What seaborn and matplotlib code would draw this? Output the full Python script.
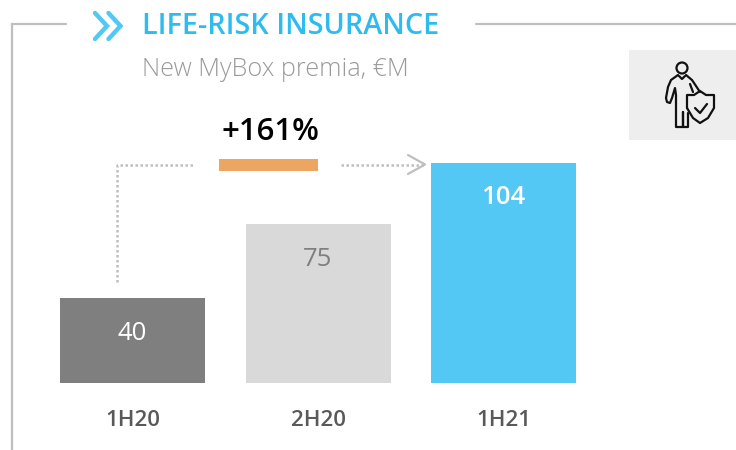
import numpy as np
import pandas as pd
import matplotlib
matplotlib.use("Agg")
import matplotlib.pyplot as plt
from matplotlib.patches import Rectangle, Circle
import seaborn as sns

periods = ["1H20", "2H20", "1H21"]
premia = [40, 75, 104]
bar_colors = ["#7f7f7f", "#d9d9d9", "#53c8f5"]
value_colors = ["white", "#7f7f7f", "white"]
title = "LIFE-RISK INSURANCE"
subtitle = "New MyBox premia, €M"
growth = "+161%"

W, H = 736, 450
sns.set_theme(style="white")
plt.rcParams["font.family"] = ["Open Sans", "DejaVu Sans"]

fig = plt.figure(figsize=(W / 100, H / 100), dpi=100, facecolor="white")

ax = fig.add_axes([0, 0, 1, 1])
df = pd.DataFrame({"period": periods, "premia": premia})
sns.barplot(data=df, x="period", y="premia", hue="period", palette=bar_colors,
            width=145 / 185.5, legend=False, ax=ax, saturation=1, linewidth=0)
ax.set_xlim(-132.5 / 185.5, (W - 132.5) / 185.5)
ppu = 2.115
ax.set_ylim(-(H - 383) / ppu, 383 / ppu)
ax.axis("off")
value_offsets = [32, 32, 31]
for i, (p, v) in enumerate(zip(periods, premia)):
    ax.text(i, v - value_offsets[i] / ppu, str(v), ha="center", va="center_baseline", fontsize=18.5,
            color=value_colors[i], fontweight="semibold" if i == 2 else "normal")
    ax.text(i, -35 / ppu, p, ha="center", va="center_baseline", fontsize=16,
            color="#595959", fontweight="semibold")

ov = fig.add_axes([0, 0, 1, 1], facecolor="none")
ov.set_xlim(0, W)
ov.set_ylim(H, 0)
ov.axis("off")

gray = "#bfbfbf"
ov.plot([66, 12, 12], [23.5, 23.5, 450], color=gray, lw=1.6, solid_joinstyle="miter")
ov.plot([476, 736], [23.5, 23.5], color=gray, lw=1.6)

chev = "#53c8f5"
ov.plot([95, 107, 95], [13, 26, 39], color=chev, lw=3.2, solid_joinstyle="miter")
ov.plot([108.5, 120.5, 108.5], [13, 26, 39], color=chev, lw=3.2, solid_joinstyle="miter")

ov.text(142.5, 23, title, fontsize=20.7, color="#2dbbf0", fontweight="semibold",
        va="center_baseline", ha="left")
ov.text(142.5, 67, subtitle, fontsize=18.2, color="#9a9a9a", fontweight="light",
        va="center_baseline", ha="left")
ov.text(270.5, 129, growth, fontsize=22.4, color="black", fontweight="semibold",
        va="center_baseline", ha="center")

ov.add_patch(Rectangle((219, 159), 98.5, 12, color="#eda661", lw=0))
ov.plot([117, 117, 194], [282, 164.5, 164.5], color=gray, lw=1.8, ls=(0, (1, 1)))
ov.plot([341, 424], [164.5, 164.5], color=gray, lw=1.8, ls=(0, (1, 1)))
ov.plot([408, 425, 408], [155, 164.5, 174], color=gray, lw=1.6)

ov.add_patch(Rectangle((629, 50), 107, 90, color="#eeeeee", lw=0))
k = "#111111"
lw = 1.6
ov.add_patch(Circle((682, 68), 5.5, fill=False, ec=k, lw=lw))
ov.plot([678, 671, 668, 666, 667, 670, 672, 675, 676, 676, 683, 683],
        [75, 80, 87, 98, 102, 103, 98, 88, 95, 127, 127, 112],
        color=k, lw=lw, solid_joinstyle="round")
ov.plot([683, 683, 688, 688], [112, 127, 127, 113], color=k, lw=lw)
ov.plot([686, 692, 700], [75, 80, 92], color=k, lw=lw)
ov.plot([690, 693], [84, 92], color=k, lw=lw)
ov.plot([679, 682, 685], [76, 79, 76], color=k, lw=lw)
ov.plot([687, 687, 694, 700, 706, 714, 714, 708, 700, 693, 687],
        [108, 95, 95, 91, 95, 95, 108, 118, 123, 118, 108],
        color=k, lw=lw, solid_joinstyle="round")
ov.plot([695, 700, 707], [108, 113, 104], color=k, lw=lw)

fig.savefig("out.png", dpi=100, facecolor="white")
